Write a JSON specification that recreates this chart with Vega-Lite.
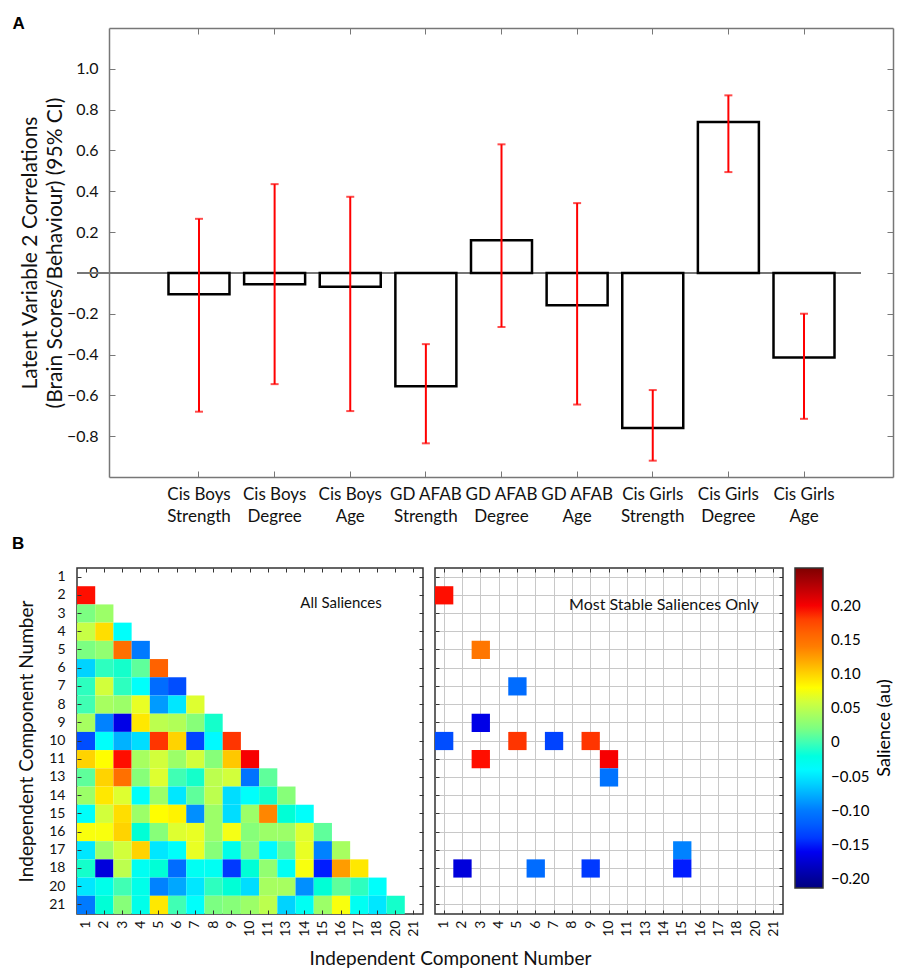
{
  "$schema": "https://vega.github.io/schema/vega-lite/v6.json",
  "background": "white",
  "padding": {"left": 12, "top": 14, "right": 0, "bottom": 0},
  "config": {
    "font": "Lato",
    "axis": {"labelFont": "Lato", "titleFont": "Lato", "labelColor": "#111", "titleColor": "#111", "titleFontWeight": "normal", "tickColor": "#555", "grid": false}
  },
  "datasets": {
    "bars": [
      {"label": "Cis Boys\nStrength", "value": -0.105, "lo": -0.68, "hi": 0.265},
      {"label": "Cis Boys\nDegree", "value": -0.055, "lo": -0.545, "hi": 0.435},
      {"label": "Cis Boys\nAge", "value": -0.068, "lo": -0.677, "hi": 0.373},
      {"label": "GD AFAB\nStrength", "value": -0.555, "lo": -0.835, "hi": -0.349},
      {"label": "GD AFAB\nDegree", "value": 0.16, "lo": -0.265, "hi": 0.63},
      {"label": "GD AFAB\nAge", "value": -0.158, "lo": -0.645, "hi": 0.342},
      {"label": "Cis Girls\nStrength", "value": -0.76, "lo": -0.92, "hi": -0.574},
      {"label": "Cis Girls\nDegree", "value": 0.74, "lo": 0.494, "hi": 0.87},
      {"label": "Cis Girls\nAge", "value": -0.415, "lo": -0.715, "hi": -0.2}
    ],
    "all": [
      {"r": 2, "c": 1, "s": 0.195},
      {"r": 3, "c": 1, "s": 0.02}, {"r": 3, "c": 2, "s": 0.035},
      {"r": 4, "c": 1, "s": 0.055}, {"r": 4, "c": 2, "s": 0.095}, {"r": 4, "c": 3, "s": -0.035},
      {"r": 5, "c": 1, "s": 0.02}, {"r": 5, "c": 2, "s": 0.03}, {"r": 5, "c": 3, "s": 0.15}, {"r": 5, "c": 4, "s": -0.10},
      {"r": 6, "c": 1, "s": -0.06}, {"r": 6, "c": 2, "s": -0.005}, {"r": 6, "c": 3, "s": -0.01}, {"r": 6, "c": 4, "s": 0.01}, {"r": 6, "c": 5, "s": 0.16},
      {"r": 7, "c": 1, "s": -0.005}, {"r": 7, "c": 2, "s": 0.06}, {"r": 7, "c": 3, "s": -0.005}, {"r": 7, "c": 4, "s": -0.035}, {"r": 7, "c": 5, "s": -0.11}, {"r": 7, "c": 6, "s": -0.13},
      {"r": 8, "c": 1, "s": 0.0}, {"r": 8, "c": 2, "s": 0.04}, {"r": 8, "c": 3, "s": 0.035}, {"r": 8, "c": 4, "s": 0.07}, {"r": 8, "c": 5, "s": -0.085}, {"r": 8, "c": 6, "s": -0.05}, {"r": 8, "c": 7, "s": 0.065},
      {"r": 9, "c": 1, "s": 0.04}, {"r": 9, "c": 2, "s": -0.095}, {"r": 9, "c": 3, "s": -0.165}, {"r": 9, "c": 4, "s": 0.09}, {"r": 9, "c": 5, "s": 0.05}, {"r": 9, "c": 6, "s": 0.045}, {"r": 9, "c": 7, "s": 0.025}, {"r": 9, "c": 8, "s": -0.01},
      {"r": 10, "c": 1, "s": -0.13}, {"r": 10, "c": 2, "s": -0.035}, {"r": 10, "c": 3, "s": -0.075}, {"r": 10, "c": 4, "s": -0.055}, {"r": 10, "c": 5, "s": 0.185}, {"r": 10, "c": 6, "s": 0.10}, {"r": 10, "c": 7, "s": -0.135}, {"r": 10, "c": 8, "s": -0.04}, {"r": 10, "c": 9, "s": 0.185},
      {"r": 11, "c": 1, "s": 0.10}, {"r": 11, "c": 2, "s": 0.08}, {"r": 11, "c": 3, "s": 0.195}, {"r": 11, "c": 4, "s": 0.04}, {"r": 11, "c": 5, "s": 0.06}, {"r": 11, "c": 6, "s": 0.035}, {"r": 11, "c": 7, "s": 0.06}, {"r": 11, "c": 8, "s": 0.025}, {"r": 11, "c": 9, "s": 0.105}, {"r": 11, "c": 10, "s": 0.20},
      {"r": 13, "c": 1, "s": 0.01}, {"r": 13, "c": 2, "s": 0.10}, {"r": 13, "c": 3, "s": 0.15}, {"r": 13, "c": 4, "s": 0.025}, {"r": 13, "c": 5, "s": 0.065}, {"r": 13, "c": 6, "s": 0.0}, {"r": 13, "c": 7, "s": -0.01}, {"r": 13, "c": 8, "s": 0.05}, {"r": 13, "c": 9, "s": 0.06}, {"r": 13, "c": 10, "s": -0.105}, {"r": 13, "c": 11, "s": 0.01},
      {"r": 14, "c": 1, "s": 0.035}, {"r": 14, "c": 2, "s": 0.09}, {"r": 14, "c": 3, "s": 0.065}, {"r": 14, "c": 4, "s": -0.035}, {"r": 14, "c": 5, "s": 0.035}, {"r": 14, "c": 6, "s": -0.05}, {"r": 14, "c": 7, "s": 0.01}, {"r": 14, "c": 8, "s": 0.05}, {"r": 14, "c": 9, "s": -0.055}, {"r": 14, "c": 10, "s": -0.035}, {"r": 14, "c": 11, "s": -0.01}, {"r": 14, "c": 13, "s": 0.025},
      {"r": 15, "c": 1, "s": -0.035}, {"r": 15, "c": 2, "s": 0.06}, {"r": 15, "c": 3, "s": 0.095}, {"r": 15, "c": 4, "s": 0.035}, {"r": 15, "c": 5, "s": 0.08}, {"r": 15, "c": 6, "s": 0.085}, {"r": 15, "c": 7, "s": -0.09}, {"r": 15, "c": 8, "s": 0.035}, {"r": 15, "c": 9, "s": -0.055}, {"r": 15, "c": 10, "s": 0.035}, {"r": 15, "c": 11, "s": 0.135}, {"r": 15, "c": 13, "s": -0.015}, {"r": 15, "c": 14, "s": -0.035},
      {"r": 16, "c": 1, "s": 0.077}, {"r": 16, "c": 2, "s": 0.077}, {"r": 16, "c": 3, "s": 0.10}, {"r": 16, "c": 4, "s": -0.015}, {"r": 16, "c": 5, "s": 0.025}, {"r": 16, "c": 6, "s": 0.065}, {"r": 16, "c": 7, "s": 0.07}, {"r": 16, "c": 8, "s": 0.035}, {"r": 16, "c": 9, "s": 0.075}, {"r": 16, "c": 10, "s": 0.025}, {"r": 16, "c": 11, "s": 0.035}, {"r": 16, "c": 13, "s": 0.035}, {"r": 16, "c": 14, "s": 0.065}, {"r": 16, "c": 15, "s": 0.01},
      {"r": 17, "c": 1, "s": -0.05}, {"r": 17, "c": 2, "s": 0.035}, {"r": 17, "c": 3, "s": 0.06}, {"r": 17, "c": 4, "s": 0.10}, {"r": 17, "c": 5, "s": -0.05}, {"r": 17, "c": 6, "s": -0.035}, {"r": 17, "c": 7, "s": 0.07}, {"r": 17, "c": 8, "s": 0.025}, {"r": 17, "c": 9, "s": -0.025}, {"r": 17, "c": 10, "s": 0.025}, {"r": 17, "c": 11, "s": -0.04}, {"r": 17, "c": 13, "s": 0.01}, {"r": 17, "c": 14, "s": 0.07}, {"r": 17, "c": 15, "s": -0.095}, {"r": 17, "c": 16, "s": 0.04},
      {"r": 18, "c": 1, "s": -0.01}, {"r": 18, "c": 2, "s": -0.17}, {"r": 18, "c": 3, "s": 0.05}, {"r": 18, "c": 4, "s": -0.03}, {"r": 18, "c": 5, "s": -0.015}, {"r": 18, "c": 6, "s": -0.11}, {"r": 18, "c": 7, "s": -0.03}, {"r": 18, "c": 8, "s": -0.03}, {"r": 18, "c": 9, "s": -0.14}, {"r": 18, "c": 10, "s": -0.015}, {"r": 18, "c": 11, "s": 0.03}, {"r": 18, "c": 13, "s": -0.03}, {"r": 18, "c": 14, "s": 0.077}, {"r": 18, "c": 15, "s": -0.15}, {"r": 18, "c": 16, "s": 0.125}, {"r": 18, "c": 17, "s": 0.09},
      {"r": 20, "c": 1, "s": -0.05}, {"r": 20, "c": 2, "s": -0.025}, {"r": 20, "c": 3, "s": 0.0}, {"r": 20, "c": 4, "s": -0.025}, {"r": 20, "c": 5, "s": -0.095}, {"r": 20, "c": 6, "s": -0.08}, {"r": 20, "c": 7, "s": -0.05}, {"r": 20, "c": 8, "s": -0.005}, {"r": 20, "c": 9, "s": -0.015}, {"r": 20, "c": 10, "s": -0.055}, {"r": 20, "c": 11, "s": 0.04}, {"r": 20, "c": 13, "s": 0.04}, {"r": 20, "c": 14, "s": -0.09}, {"r": 20, "c": 15, "s": -0.015}, {"r": 20, "c": 16, "s": 0.01}, {"r": 20, "c": 17, "s": -0.005}, {"r": 20, "c": 18, "s": -0.035},
      {"r": 21, "c": 1, "s": -0.10}, {"r": 21, "c": 2, "s": -0.015}, {"r": 21, "c": 3, "s": 0.025}, {"r": 21, "c": 4, "s": -0.025}, {"r": 21, "c": 5, "s": 0.09}, {"r": 21, "c": 6, "s": 0.0}, {"r": 21, "c": 7, "s": -0.035}, {"r": 21, "c": 8, "s": 0.02}, {"r": 21, "c": 9, "s": 0.025}, {"r": 21, "c": 10, "s": 0.035}, {"r": 21, "c": 11, "s": 0.05}, {"r": 21, "c": 13, "s": -0.06}, {"r": 21, "c": 14, "s": -0.03}, {"r": 21, "c": 15, "s": 0.035}, {"r": 21, "c": 16, "s": 0.077}, {"r": 21, "c": 17, "s": -0.03}, {"r": 21, "c": 18, "s": -0.05}, {"r": 21, "c": 20, "s": -0.01}
    ],
    "stable": [
      {"r": 2, "c": 1, "s": 0.195},
      {"r": 5, "c": 3, "s": 0.145},
      {"r": 7, "c": 5, "s": -0.11},
      {"r": 9, "c": 3, "s": -0.165},
      {"r": 10, "c": 1, "s": -0.13},
      {"r": 10, "c": 5, "s": 0.185},
      {"r": 10, "c": 7, "s": -0.135},
      {"r": 10, "c": 9, "s": 0.185},
      {"r": 11, "c": 3, "s": 0.195},
      {"r": 11, "c": 10, "s": 0.20},
      {"r": 13, "c": 10, "s": -0.105},
      {"r": 17, "c": 15, "s": -0.095},
      {"r": 18, "c": 2, "s": -0.17},
      {"r": 18, "c": 6, "s": -0.11},
      {"r": 18, "c": 9, "s": -0.14},
      {"r": 18, "c": 15, "s": -0.15}
    ]
  },
  "concat": [
    {
      "title": {"text": "A", "anchor": "start", "frame": "bounds", "fontSize": 17, "fontWeight": "bold", "font": "Liberation Sans", "offset": -18, "baseline": "alphabetic", "dx": -7},
      "width": 816,
      "height": 449,
      "view": {"stroke": null},
      "data": {"name": "bars"},
      "layer": [
        {
          "mark": {"type": "rule", "color": "#777", "strokeWidth": 1, "strokeDash": [0, 32, 784, 200]},
          "encoding": {"y": {"datum": 0, "type": "quantitative", "scale": {"domain": [-1, 1.2], "nice": false}, "axis": null}}
        },
        {
          "mark": {"type": "bar", "fill": "white", "stroke": "black", "strokeWidth": 2.5},
          "encoding": {
            "x": {"field": "label", "type": "nominal", "sort": null, "scale": {"paddingInner": 0.1934, "paddingOuter": 0.9916, "align": 0.61},
              "axis": {"orient": "bottom", "title": null, "labelAngle": 0, "labelExpr": "split(datum.label, '\\n')", "labelFontSize": 17, "labelLineHeight": 22, "tickSize": -6, "labelPadding": 15, "domain": true, "domainColor": "#777", "domainWidth": 1.5, "domainDash": [0, 32, 784, 200], "tickColor": "#777"}},
            "y": {"field": "value", "type": "quantitative", "scale": {"domain": [-1, 1.2], "nice": false},
              "axis": {"offset": -32, "title": ["Latent Variable 2 Correlations", "(Brain Scores/Behaviour) (95% CI)"], "titleFontSize": 21, "titleLineHeight": 25, "titlePadding": 1, "values": [-0.8, -0.6, -0.4, -0.2, 0, 0.2, 0.4, 0.6, 0.8, 1.0], "labelExpr": "datum.value == 0 ? '0' : format(datum.value, '.1f')", "labelFontSize": 16, "tickSize": -6, "labelPadding": 17, "domain": true, "domainColor": "#777", "domainWidth": 1.5, "tickColor": "#777"}}
          }
        },
        {
          "mark": {"type": "rule", "color": "#FF0000", "strokeWidth": 2},
          "encoding": {
            "x": {"field": "label", "type": "nominal", "sort": null, "axis": {"orient": "top", "labels": false, "title": null, "tickSize": -6, "domain": true, "domainColor": "#777", "domainWidth": 1.5, "domainDash": [0, 32, 784, 200], "tickColor": "#777"}},
            "y": {"field": "lo", "type": "quantitative", "axis": {"orient": "right", "labels": false, "title": null, "tickSize": -6, "domain": true, "domainColor": "#777", "domainWidth": 1.5, "tickColor": "#777", "values": [-0.8, -0.6, -0.4, -0.2, 0, 0.2, 0.4, 0.6, 0.8, 1.0]}},
            "y2": {"field": "hi"}
          }
        },
        {
          "mark": {"type": "tick", "color": "#FF0000", "thickness": 2, "size": 8},
          "encoding": {
            "x": {"field": "label", "type": "nominal", "sort": null, "axis": null},
            "y": {"field": "lo", "type": "quantitative", "axis": null}
          }
        },
        {
          "mark": {"type": "tick", "color": "#FF0000", "thickness": 2, "size": 8},
          "encoding": {
            "x": {"field": "label", "type": "nominal", "sort": null, "axis": null},
            "y": {"field": "hi", "type": "quantitative", "axis": null}
          }
        }
      ],
      "resolve": {"axis": {"x": "independent", "y": "independent"}}
    },
    {
      "title": {"text": "B", "anchor": "start", "frame": "bounds", "fontSize": 17, "fontWeight": "bold", "font": "Liberation Sans", "offset": 1, "baseline": "alphabetic", "dx": -5},
      "bounds": "flush",
      "spacing": 12,
      "hconcat": [
        {
          "width": 346,
          "height": 346,
          "view": {"stroke": "#333", "strokeWidth": 1.5},
          "layer": [
            {
              "data": {"name": "all"},
              "mark": {"type": "rect"},
              "encoding": {
                "x": {"field": "c", "type": "ordinal", "scale": {"domain": [1,2,3,4,5,6,7,8,9,10,11,13,14,15,16,17,18,20,21], "paddingInner": 0, "paddingOuter": 0},
                  "axis": {"orient": "bottom", "title": "Independent Component Number", "titleX": 373, "titleFontSize": 19, "titlePadding": 13, "labelAngle": -90, "labelFontSize": 14, "tickSize": -4, "labelPadding": 10, "domain": false, "tickColor": "#333"}},
                "y": {"field": "r", "type": "ordinal", "scale": {"domain": [1,2,3,4,5,6,7,8,9,10,11,13,14,15,16,17,18,20,21], "paddingInner": 0, "paddingOuter": 0},
                  "axis": {"title": "Independent Component Number", "titleFontSize": 19, "titlePadding": 12, "labelFontSize": 14, "tickSize": -4, "labelPadding": 16, "domain": false, "tickColor": "#333"}},
                "color": {"field": "s", "type": "quantitative",
                  "scale": {"domain": [-0.213, -0.1545, -0.096, -0.0375, 0.021, 0.0795, 0.138, 0.1965, 0.255], "range": ["#00007F", "#0000FF", "#007FFF", "#00FFFF", "#7FFF7F", "#FFFF00", "#FF7F00", "#FF0000", "#7F0000"]},
                  "legend": {"title": "Salience (au)", "orient": "right", "offset": 10, "direction": "vertical", "gradientLength": 320, "gradientThickness": 28, "values": [-0.2, -0.15, -0.1, -0.05, 0, 0.05, 0.1, 0.15, 0.2], "labelExpr": "datum.value == 0 ? '0' : format(datum.value, '.2f')", "labelFontSize": 15, "labelOffset": 8, "labelFont": "Lato", "titleFont": "Lato", "titleOrient": "right", "titleFontSize": 18, "titleFontWeight": "normal", "titleAnchor": "middle", "titlePadding": 25, "gradientStrokeColor": "#333", "gradientStrokeWidth": 1.5,
                    "encode": {"title": {"update": {"angle": {"value": 270}}}}}}
              }
            },
            {
              "data": {"values": [{"label": "All Saliences", "c": 16, "r": 2}]},
              "mark": {"type": "text", "fontSize": 15, "dy": 8, "color": "#111"},
              "encoding": {
                "text": {"field": "label"},
                "x": {"field": "c", "type": "ordinal", "axis": {"orient": "top", "labels": false, "title": null, "tickSize": -4, "domain": false, "tickColor": "#333"}},
                "y": {"field": "r", "type": "ordinal", "axis": {"orient": "right", "labels": false, "title": null, "tickSize": -4, "domain": false, "tickColor": "#333"}}
              }
            }
          ],
          "resolve": {"axis": {"x": "independent", "y": "independent"}}
        },
        {
          "width": 348,
          "height": 346,
          "view": {"stroke": "#333", "strokeWidth": 1.5},
          "layer": [
            {
              "data": {"name": "stable"},
              "mark": {"type": "rect"},
              "encoding": {
                "x": {"field": "c", "type": "ordinal", "scale": {"domain": [1,2,3,4,5,6,7,8,9,10,11,13,14,15,16,17,18,20,21], "paddingInner": 0, "paddingOuter": 0},
                  "axis": {"orient": "bottom", "title": null, "labelAngle": -90, "labelFontSize": 14, "tickSize": -4, "labelPadding": 10, "domain": false, "grid": true, "gridColor": "#c8c8c8", "gridWidth": 1, "tickColor": "#333", "zindex": 0}},
                "y": {"field": "r", "type": "ordinal", "scale": {"domain": [1,2,3,4,5,6,7,8,9,10,11,13,14,15,16,17,18,20,21], "paddingInner": 0, "paddingOuter": 0},
                  "axis": {"title": null, "labels": false, "tickSize": -4, "domain": false, "grid": true, "gridColor": "#c8c8c8", "gridWidth": 1, "tickColor": "#333", "zindex": 0}},
                "color": {"field": "s", "type": "quantitative"}
              }
            },
            {
              "data": {"values": [{"label": "Most Stable Saliences Only", "c": 14, "r": 2}]},
              "mark": {"type": "text", "fontSize": 16, "dy": 10, "color": "#111"},
              "encoding": {
                "text": {"field": "label"},
                "x": {"field": "c", "type": "ordinal", "axis": {"orient": "top", "labels": false, "title": null, "tickSize": -4, "domain": false, "tickColor": "#333"}},
                "y": {"field": "r", "type": "ordinal", "axis": {"orient": "right", "labels": false, "title": null, "tickSize": -4, "domain": false, "tickColor": "#333"}}
              }
            }
          ],
          "resolve": {"axis": {"x": "independent", "y": "independent"}}
        }
      ]
    }
  ],
  "columns": 1,
  "align": "none",
  "spacing": 10,
  "resolve": {"scale": {"color": "independent"}, "legend": {"color": "independent"}}
}
